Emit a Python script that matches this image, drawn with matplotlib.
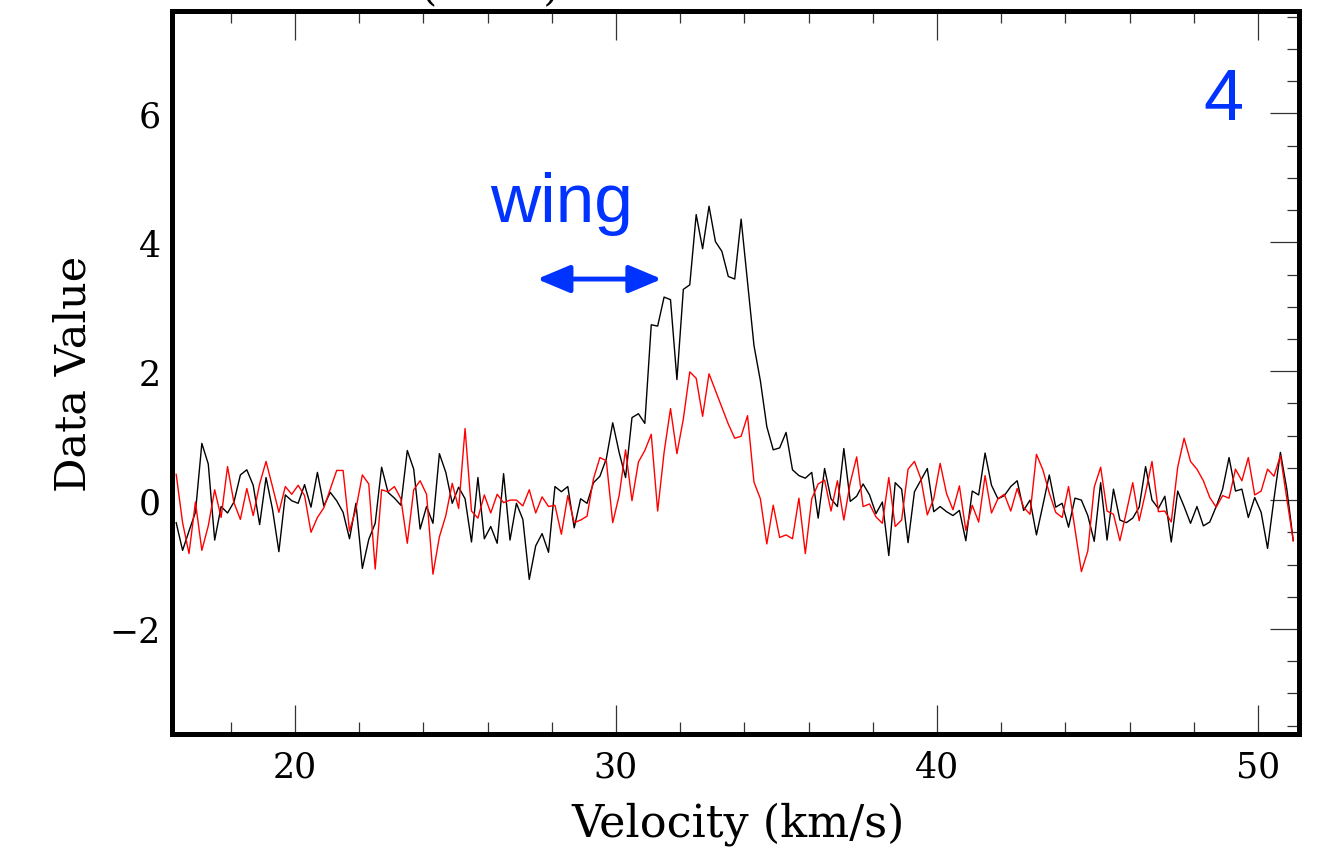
import numpy as np
import matplotlib.pyplot as plt
from matplotlib.ticker import MultipleLocator

# channel velocities (km/s): 175 channels, 0.2 km/s wide
v_start = 16.3
v_step = 0.2

# black spectrum
black = [
    -0.35, -0.78, -0.48, -0.19, 0.88, 0.56, -0.62, -0.10, -0.20, -0.03,
    0.39, 0.47, 0.23, -0.38, 0.35, -0.14, -0.80, 0.08, -0.01, -0.05,
    0.24, -0.11, 0.43, -0.09, 0.12, -0.01, -0.19, -0.60, -0.05, -1.06,
    -0.61, -0.36, 0.51, 0.12, 0.03, -0.08, 0.77, 0.48, -0.45, -0.10,
    -0.36, 0.72, 0.43, -0.05, 0.20, 0.02, -0.65, 0.35, -0.60, -0.41,
    -0.67, 0.41, -0.62, -0.05, -0.30, -1.23, -0.71, -0.52, -0.81, 0.21,
    0.13, 0.21, -0.43, 0.02, -0.05, 0.27, 0.37, 0.64, 1.20, 0.74,
    0.35, 1.28, 1.34, 1.19, 2.72, 2.70, 3.15, 3.11, 1.87, 3.27,
    3.34, 4.43, 3.90, 4.56, 4.01, 3.86, 3.47, 3.43, 4.36, 3.38,
    2.40, 1.85, 1.14, 0.78, 0.81, 1.05, 0.47, 0.38, 0.34, 0.43,
    -0.28, 0.49, 0.02, -0.10, 0.80, -0.02, 0.06, 0.25, 0.08, -0.21,
    -0.03, -0.86, 0.27, 0.17, -0.66, 0.13, 0.31, 0.49, -0.18, -0.10,
    -0.18, -0.24, -0.16, -0.63, 0.14, 0.08, 0.73, 0.23, 0.02, 0.07,
    0.21, 0.30, -0.16, 0.00, -0.54, -0.08, 0.39, -0.11, -0.05, -0.42,
    0.03, 0.00, -0.24, -0.64, 0.27, -0.62, 0.17, -0.31, -0.35, -0.28,
    -0.11, 0.52, 0.00, -0.13, 0.06, -0.65, 0.14, -0.10, -0.36, -0.10,
    -0.40, -0.34, -0.10, 0.17, 0.66, 0.14, 0.17, -0.27, 0.04, -0.19,
    -0.75, 0.02, 0.74, 0.17, -0.63,
]

# red spectrum
red = [
    0.40, -0.35, -0.83, -0.03, -0.78, -0.40, 0.16, -0.27, 0.52, -0.04,
    -0.30, 0.18, -0.24, 0.25, 0.60, 0.21, -0.19, 0.21, 0.09, 0.23,
    0.07, -0.50, -0.27, -0.12, 0.17, 0.46, 0.46, -0.48, -0.14, 0.39,
    0.25, -1.07, 0.16, 0.13, 0.21, 0.02, -0.67, 0.16, 0.30, 0.09,
    -1.15, -0.57, -0.24, 0.26, -0.13, 1.11, -0.17, -0.28, 0.08, -0.20,
    0.09, -0.04, 0.00, 0.00, -0.09, 0.16, -0.20, 0.05, -0.10, -0.08,
    -0.53, 0.07, -0.35, -0.31, -0.25, 0.33, 0.66, 0.61, -0.35, 0.07,
    0.78, -0.01, 0.59, 0.77, 1.02, -0.17, 0.74, 1.42, 0.72, 1.26,
    1.99, 1.89, 1.30, 1.96, 1.70, 1.44, 1.18, 0.96, 0.99, 1.31,
    0.28, 0.02, -0.68, -0.08, -0.58, -0.54, -0.60, 0.03, -0.83, 0.02,
    0.25, 0.31, -0.17, 0.30, -0.31, 0.27, 0.67, -0.10, -0.06, -0.26,
    -0.36, 0.35, -0.41, -0.31, 0.48, 0.60, 0.33, -0.23, 0.02, 0.57,
    0.10, -0.15, 0.22, -0.47, -0.08, -0.34, 0.38, -0.20, 0.02, 0.09,
    -0.17, 0.18, -0.11, -0.22, 0.71, 0.47, 0.11, -0.19, -0.27, 0.21,
    -0.45, -1.11, -0.79, 0.20, 0.51, -0.17, -0.22, -0.63, -0.19, 0.27,
    -0.32, 0.12, 0.60, -0.18, -0.17, -0.34, 0.51, 0.96, 0.60, 0.48,
    0.30, 0.04, -0.11, 0.07, 0.03, 0.48, 0.30, 0.66, 0.08, 0.14,
    0.48, 0.37, 0.69, 0.02, -0.63,
]

vel = v_start + v_step * np.arange(len(black))

blue = '#0033ff'
serif = 'DejaVu Serif'

fig = plt.figure(figsize=(13.18, 8.53), dpi=100)
ax = fig.add_axes([0.1305, 0.1383, 0.8551, 0.8477])

ax.plot(vel, black, color='black', lw=1.0)
ax.plot(vel, red, color='red', lw=1.0)

ax.set_xlim(16.17, 51.28)
ax.set_ylim(-3.63, 7.59)

ax.xaxis.set_major_locator(MultipleLocator(10))
ax.xaxis.set_minor_locator(MultipleLocator(2))
ax.yaxis.set_major_locator(MultipleLocator(2))
ax.yaxis.set_minor_locator(MultipleLocator(0.5))

ax.tick_params(axis='x', which='both', direction='in', top=True, bottom=True,
               width=0.9, color='#333333')
ax.tick_params(axis='y', which='both', direction='in', left=False, right=True,
               width=0.9, color='#333333')
ax.tick_params(which='major', length=21)
ax.tick_params(which='minor', length=8.5)
ax.tick_params(axis='x', which='major', pad=11, labelsize=25)
ax.tick_params(axis='y', which='major', pad=8, labelsize=25)
for lab in ax.get_xticklabels() + ax.get_yticklabels():
    lab.set_family(serif)

for sp in ax.spines.values():
    sp.set_linewidth(3.6)

ax.set_xlabel('Velocity (km/s)', family=serif, fontsize=32)
ax.set_ylabel('Data Value', family=serif, fontsize=31)
ax.xaxis.set_label_coords(0.502, -0.093)
ax.yaxis.set_label_coords(-0.0685, 0.5)

# annotations
ax.text(28.32, 4.33, 'wing', color=blue, fontsize=50, family='Liberation Sans',
        ha='center', va='baseline')
ax.text(48.91, 5.92, '4', color=blue, fontsize=52, family='Liberation Sans',
        ha='center', va='baseline')
ax.annotate('', xy=(31.43, 3.43), xytext=(27.54, 3.43),
            arrowprops=dict(arrowstyle='<|-|>,head_length=1.0,head_width=0.42',
                            mutation_scale=20, lw=3.5, color=blue,
                            shrinkA=0, shrinkB=0))

# title clipped at the top edge of the figure, as in the reference
fig.text(490 / 1318, 1.0, '(        )', family=serif, fontsize=30,
         ha='center', va='baseline')

fig.savefig('out.png', dpi=100)
